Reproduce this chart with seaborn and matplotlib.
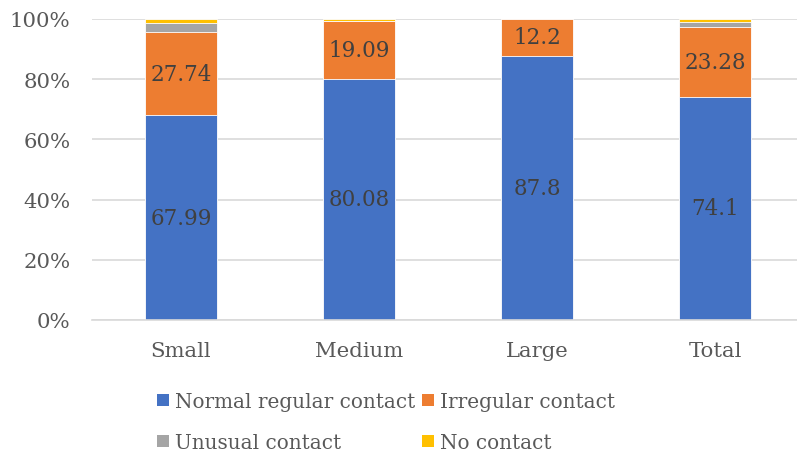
import numpy as np
import pandas as pd
import matplotlib
matplotlib.use("Agg")
import matplotlib.pyplot as plt
import seaborn as sns
from matplotlib.patches import Patch

categories = ["Small", "Medium", "Large", "Total"]
normal_regular = [67.99, 80.08, 87.8, 74.1]
irregular = [27.74, 19.09, 12.2, 23.28]
unusual = [2.83, 0.10, 0.0, 1.62]
no_contact = [1.44, 0.73, 0.0, 1.00]

series_names = ["Normal regular contact", "Irregular contact", "Unusual contact", "No contact"]
colors = ["#4472C4", "#ED7D31", "#A5A5A5", "#FFC000"]

sns.set_theme(style="white")
plt.rcParams["font.family"] = ["DejaVu Serif"]
TICK_FS = 15.3
VAL_FS = 15.5
LEG_FS = 14.4

df = pd.DataFrame({
    "category": categories,
    series_names[0]: normal_regular,
    series_names[1]: irregular,
    series_names[2]: unusual,
    series_names[3]: no_contact,
})
# cumulative tops of each stacked segment
cum = df[series_names].cumsum(axis=1)

fig = plt.figure(figsize=(7.97, 4.56), dpi=100)
W, H = 797, 456
ax = fig.add_axes([92 / W, 1 - 321 / H, 712 / W, 301 / H])

# draw from the tallest cumulative layer down so each segment shows
for name, color in reversed(list(zip(series_names, colors))):
    sns.barplot(x=df["category"], y=cum[name], color=color, width=0.405,
                saturation=1, ax=ax, linewidth=0.6, edgecolor="white")

ax.set_ylim(0, 100)
ax.set_xlim(-0.5, 3.5)
ax.set_yticks(np.arange(0, 101, 20))
ax.set_yticklabels([f"{v}%" for v in range(0, 101, 20)])
ax.yaxis.grid(True, color="#D9D9D9", linewidth=1.2)
ax.set_axisbelow(True)
for s in ["top", "right", "left"]:
    ax.spines[s].set_visible(False)
ax.spines["bottom"].set_color("#D9D9D9")
ax.spines["bottom"].set_linewidth(1.2)
ax.set_xlabel("")
ax.set_ylabel("")
ax.tick_params(axis="both", length=0, labelsize=TICK_FS, colors="#595959")
ax.tick_params(axis="y", pad=15.5)
ax.tick_params(axis="x", pad=15)

# value labels centred in the two main segments
bottoms = np.zeros(len(categories))
for vals in (normal_regular, irregular):
    for i, v in enumerate(vals):
        ax.text(i, bottoms[i] + v / 2, f"{v:g}", ha="center", va="center",
                fontsize=VAL_FS, color="#404040")
    bottoms += np.array(vals)

handles = [Patch(facecolor=c, edgecolor="none") for c in colors]
order = [0, 2, 1, 3]
fig.legend([handles[i] for i in order], [series_names[i] for i in order],
           ncol=2, loc="upper left", bbox_to_anchor=(157 / W, 1 - 393 / H),
           frameon=False, fontsize=LEG_FS, labelcolor="#595959",
           handlelength=0.6, handleheight=0.6, handletextpad=0.3,
           columnspacing=0.35, labelspacing=1.1, borderaxespad=0,
           borderpad=0)

fig.savefig("out.png", dpi=100)
